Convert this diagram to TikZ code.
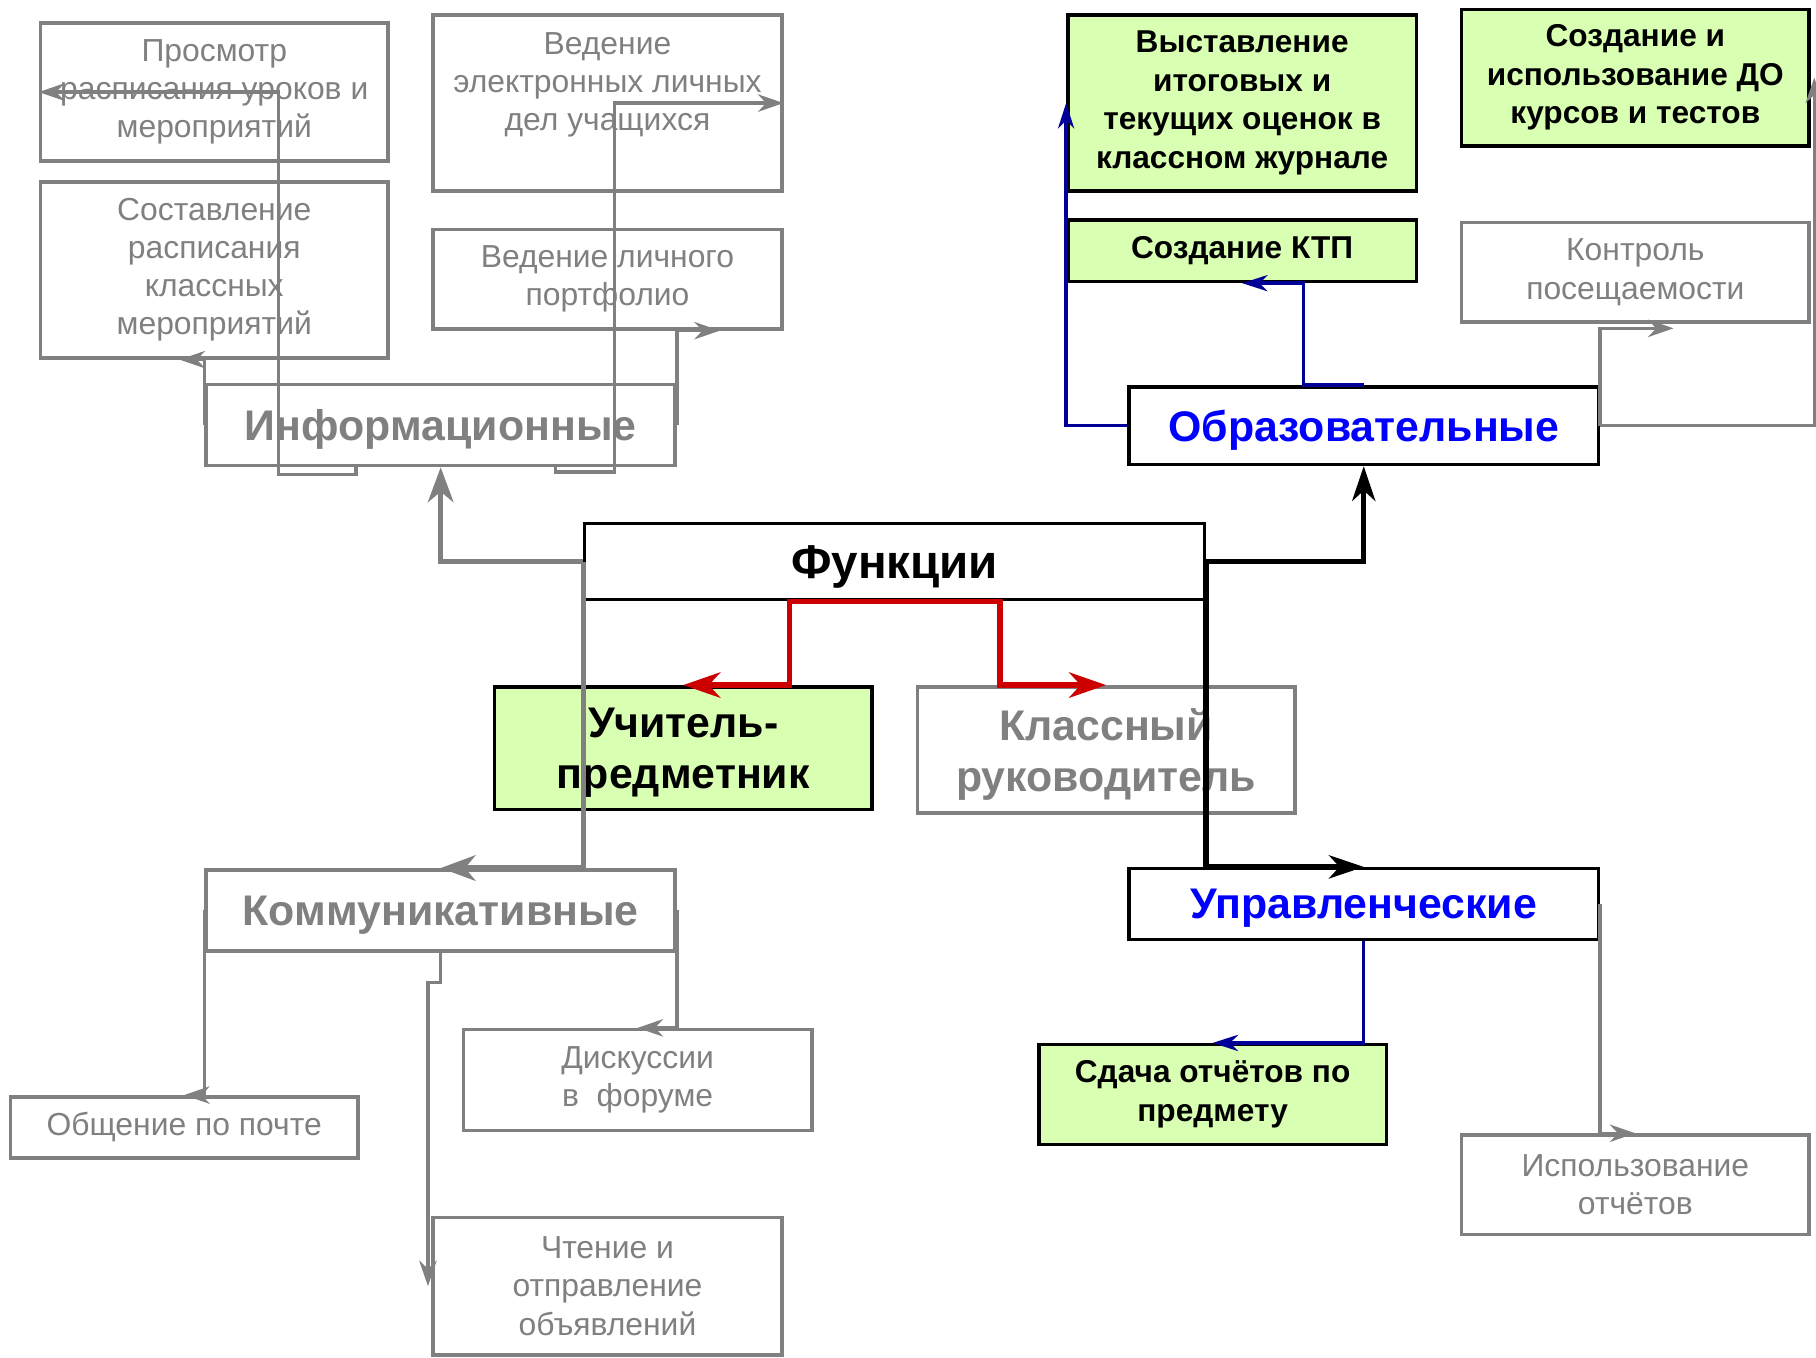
\documentclass[tikz,border=0pt]{standalone}
\usepackage{fontspec}
\setmainfont{Liberation Sans}
\usetikzlibrary{arrows.meta,calc}
\definecolor{boxgray}{HTML}{808080}
\definecolor{greenfill}{HTML}{D9FFB3}
\definecolor{navyline}{HTML}{000099}
\definecolor{redline}{HTML}{CC0000}
\definecolor{titleblue}{HTML}{0000FF}

\begin{document}
\begin{tikzpicture}[x=1pt,y=-1pt,
    graybox/.style={draw=boxgray, line width=3pt, text=boxgray, align=center, inner sep=0pt, font=\fontsize{27.5}{33}\selectfont},
    greenbox/.style={draw=black, fill=greenfill, line width=3pt, align=center, inner sep=0pt, font=\fontsize{27.3}{33.3}\selectfont\bfseries},
    groupbox/.style={draw=black, line width=3pt, align=center, inner sep=0pt, text depth=0pt, font=\fontsize{37}{44}\selectfont\bfseries},
    graygroup/.style={groupbox, draw=boxgray, text=boxgray},
    bluegroup/.style={groupbox, text=titleblue},
    grayline/.style={draw=boxgray, line width=3pt, ->, >={Stealth[length=22pt,width=15pt,inset=7pt]}},
    graythick/.style={grayline, line width=4.5pt, >={Stealth[length=30pt,width=22pt,inset=9pt]}},
    blackconn/.style={draw=black, line width=4.5pt, ->, >={Stealth[length=30pt,width=20pt,inset=9pt]}},
    redconn/.style={draw=redline, line width=4.5pt, ->, >={Stealth[length=32pt,width=22pt,inset=10pt]}},
    navyconn/.style={draw=navyline, line width=3pt, ->, >={Stealth[length=22pt,width=14pt,inset=7pt]}},]
    \useasboundingbox (0,0) rectangle (1568,1172);
    % central part
    \node[groupbox, line width=2.5pt, minimum width=535pt, minimum height=66pt, font=\fontsize{41}{44}\selectfont\bfseries] at (772.5,485) (func) {Функции};
    \node[greenbox, groupbox, fill=greenfill, minimum width=326pt, minimum height=106pt] at (590,646) (teach) {Учитель-\\предметник};
    \node[graygroup, minimum width=326pt, minimum height=109pt] at (955,647.5) (klass) {Классный\\руководитель};
    \node[graygroup, minimum width=405pt, minimum height=70pt] at (380.5,367) (info) {Информационные};
    \node[graygroup, minimum width=405pt, minimum height=70pt] at (380.5,786) (comm) {Коммуникативные};
    \node[bluegroup, minimum width=405pt, minimum height=67pt] at (1177.5,367.5) (obr) {Образовательные};
    \node[bluegroup, minimum width=405pt, minimum height=61pt] at (1177.5,780.5) (upr) {Управленческие};
    % informational
    \node[graybox, minimum width=300pt, minimum height=119pt] at (185,79.5) (prosm) {Просмотр\\расписания уроков и\\мероприятий};
    \node[graybox, minimum width=300pt, minimum height=152pt] at (185,233) (sost) {Составление\\расписания\\классных\\мероприятий};
    \node[graybox, minimum width=301pt, minimum height=152pt] at (524.5,89) (vedEl) {Ведение\\электронных личных\\дел учащихся\\[4pt]\mbox{}};
    \node[graybox, minimum width=301pt, minimum height=86pt] at (524.5,241) (portf) {Ведение личного\\портфолио};
    % educational
    \node[greenbox, minimum width=301pt, minimum height=152pt] at (1072.5,89) (vyst) {Выставление\\итоговых и\\текущих оценок в\\классном журнале};
    \node[greenbox, minimum width=301pt, minimum height=53pt] at (1072.5,216.5) (ktp) {Создание КТП};
    \node[greenbox, minimum width=300pt, minimum height=118pt] at (1412,67) (sozdDO) {Создание и\\использование ДО\\курсов и тестов};
    \node[graybox, minimum width=300pt, minimum height=86pt] at (1412,235) (kontr) {Контроль\\посещаемости};
    % communicative
    \node[graybox, minimum width=300pt, minimum height=53pt] at (159,973.5) (obsh) {Общение по почте};
    \node[graybox, minimum width=301pt, minimum height=87pt] at (550.5,932.5) (disk) {Дискуссии\\в~~форуме};
    \node[graybox, minimum width=301pt, minimum height=119pt] at (524.5,1110.5) (chten) {Чтение и\\отправление\\объявлений};
    % managerial
    \node[greenbox, minimum width=300pt, minimum height=86pt] at (1047,945) (sdacha) {Сдача отчётов по\\предмету};
    \node[graybox, minimum width=300pt, minimum height=86pt] at (1412,1023) (ispolz) {Использование\\отчётов};

    \draw[graythick] (func.west) -| (info.south);
    \draw[graythick] (func.west) |- (comm.north);
    \draw[redconn] (func.south) -- ++(-91,0) |- (teach.north);
    \draw[redconn] (func.south) -- ++(91,0) |- (klass.north);
    \draw[blackconn] (func.east) -| (obr.south);
    \draw[blackconn] (func.east) |- (upr.north);

    \draw[grayline] (info.west) |- ([xshift=-30pt]sost.south);
    \draw[grayline] ([xshift=-73pt]info.south) -- ++(0,6) -- ++(-67,0) |- (prosm.west);
    \draw[grayline] ([xshift=99pt]info.south) -- ++(0,4) -- ++(51,0) |- (vedEl.east);
    \draw[grayline] (info.east) |- ([xshift=97pt]portf.south);

    \draw[navyconn] (obr.west) -| (vyst.west);
    \draw[navyconn] (obr.north) -- ++(-52,0) |- (ktp.south);
    \draw[grayline] (obr.east) -| ([xshift=3pt]sozdDO.east);
    \draw[grayline] (obr.east) |- ([xshift=33pt,yshift=-4pt]kontr.south);

    \draw[grayline] (comm.west) |- (obsh.north);
    \draw[grayline] (comm.south) -- ++(0,26) -| ([xshift=-3pt]chten.west);
    \draw[grayline] (comm.east) |- (disk.north);

    \draw[navyconn] (upr.south) |- (sdacha.north);
    \draw[grayline] (upr.east) |- (ispolz.north);
\end{tikzpicture}
\end{document}
